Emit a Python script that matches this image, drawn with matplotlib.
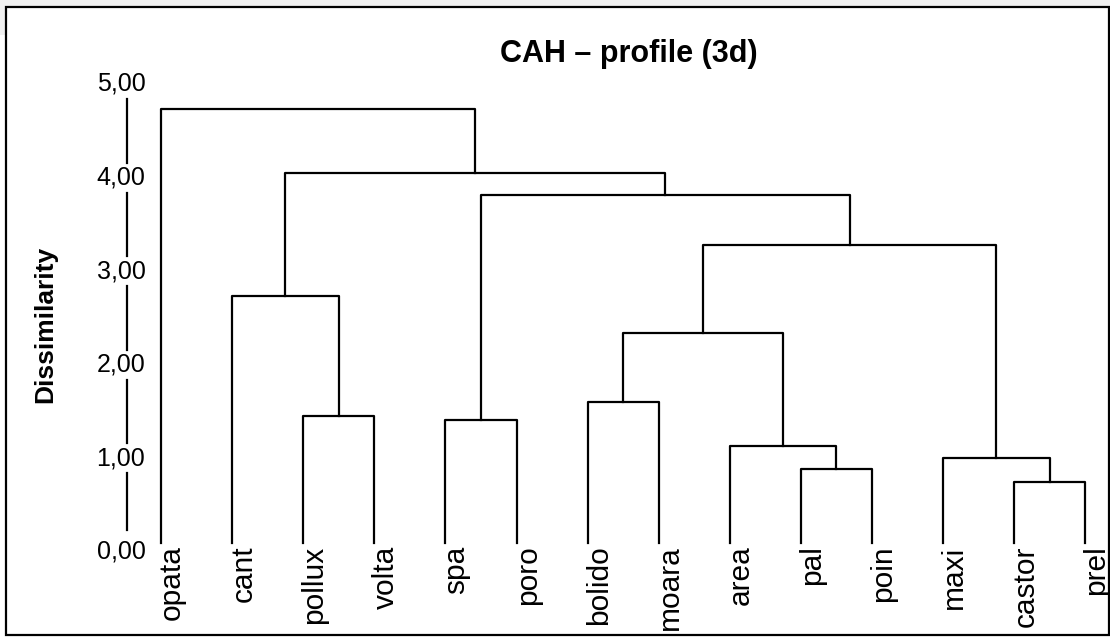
import matplotlib
matplotlib.use('Agg')
import matplotlib.pyplot as plt
from matplotlib.patches import Rectangle

plt.rcParams['font.family'] = ['Liberation Sans', 'DejaVu Sans']

# leaf order as drawn, left to right
leaves = ['opata', 'cant', 'pollux', 'volta', 'spa', 'poro', 'bolido',
          'moara', 'area', 'pal', 'poin', 'maxi', 'castor', 'prel']

# merges: (name, left child, right child, dissimilarity)
merges = [
    ('A', 'pollux', 'volta', 1.45),
    ('B', 'cant', 'A', 2.735),
    ('C', 'spa', 'poro', 1.41),
    ('D', 'bolido', 'moara', 1.60),
    ('E', 'pal', 'poin', 0.89),
    ('F', 'area', 'E', 1.13),
    ('G', 'D', 'F', 2.34),
    ('H', 'castor', 'prel', 0.75),
    ('I', 'maxi', 'H', 1.00),
    ('J', 'G', 'I', 3.28),
    ('K', 'C', 'J', 3.81),
    ('L', 'B', 'K', 4.05),
    ('M', 'opata', 'L', 4.73),
]

yticks = [0, 1, 2, 3, 4, 5]
ytick_labels = ['0,00', '1,00', '2,00', '3,00', '4,00', '5,00']
leaf_base = 0.10


def main():
    W, H = 1110, 637
    fig = plt.figure(figsize=(W / 100, H / 100), dpi=100)

    # light grey strip of the screenshot and the outer frame
    fig.patches.append(Rectangle((0, 1 - 7 / H), 1, 7 / H, transform=fig.transFigure,
                                 facecolor='#f0f0f0', edgecolor='none', zorder=0))
    fig.patches.append(Rectangle((0, 1 - 35 / H), 6 / W, 35 / H, transform=fig.transFigure,
                                 facecolor='#f0f0f0', edgecolor='none', zorder=0))
    fig.patches.append(Rectangle((6 / W, 2 / H), 1103 / W, 628 / H, transform=fig.transFigure,
                                 facecolor='none', edgecolor='black', linewidth=1.6, zorder=1))

    ax = fig.add_axes([127 / W, (H - 552) / H, (1105 - 127) / W, (552 - 84) / H])
    ax.set_xlim(-34 / 71.1, 944 / 71.1)
    ax.set_ylim(0, 5)
    ax.axis('off')

    xpos = {name: i for i, name in enumerate(leaves)}
    ypos = {name: leaf_base for name in leaves}
    lw = 1.6
    for name, left, right, h in merges:
        xl, xr = xpos[left], xpos[right]
        ax.plot([xl, xl, xr, xr], [ypos[left], h, h, ypos[right]],
                color='black', linewidth=lw, solid_capstyle='projecting', clip_on=False)
        xpos[name] = (xl + xr) / 2
        ypos[name] = h

    # leaf labels
    for i, name in enumerate(leaves):
        ax.text(i - 0.04, 0.07, name, rotation=90, ha='left', va='top',
                fontsize=21.5, clip_on=False)

    # y axis: line broken around the tick labels
    ax_x = -34 / 71.1
    gap = 0.16
    starts = [t + gap for t in yticks[1:-1]]
    ends = [t - gap for t in yticks[2:]]
    for s, e in zip(starts, ends):
        ax.plot([ax_x, ax_x], [s, e], color='black', linewidth=lw, clip_on=False)
    ax.plot([ax_x, ax_x], [0.23, yticks[1] - gap], color='black', linewidth=lw, clip_on=False)
    for t, lab in zip(yticks, ytick_labels):
        ax.text(ax_x - 6 / 71.1, t, lab, ha='center', va='center', fontsize=18, clip_on=False)

    ax.text(ax_x - 82 / 71.1, 2.43, 'Dissimilarity', rotation=90, ha='center', va='center',
            fontsize=19, fontweight='bold', clip_on=False)

    fig.text(629 / W, 1 - 62 / H, 'CAH \u2013 profile (3d)', ha='center', va='baseline',
             fontsize=22, fontweight='bold')

    fig.savefig('out.png', dpi=100)


if __name__ == '__main__':
    main()
